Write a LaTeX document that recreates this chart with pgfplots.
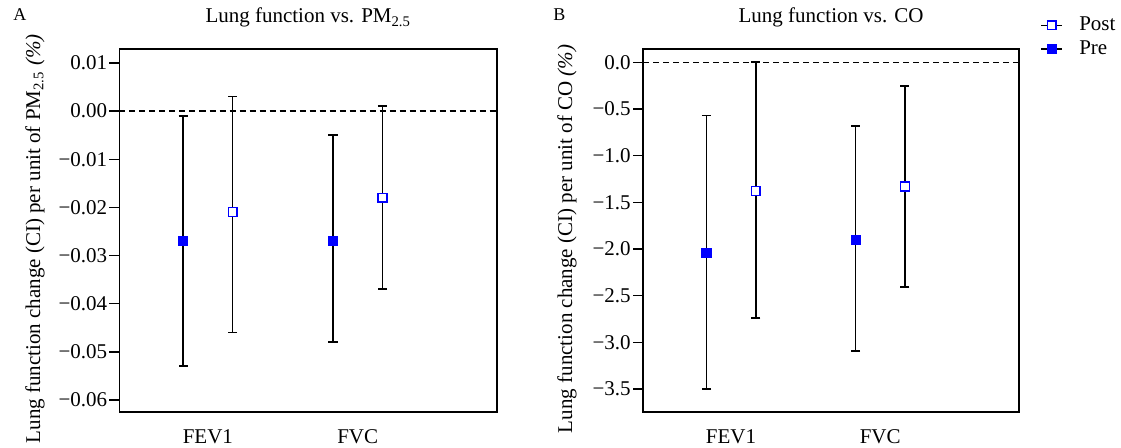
\documentclass[border=0pt]{standalone}
\usepackage{fontspec}
\setmainfont{Liberation Serif}
\usepackage{pgfplots}
\pgfplotsset{compat=1.18}
\usepackage{pgfplotstable}

% x = category position (FEV1 = 1, FVC = 2), y = estimate, lo/hi = CI bounds
\pgfplotstableread{
x     y       lo      hi
0.835 -0.027  -0.053  -0.001
1.835 -0.027  -0.048  -0.005
}\pmpre
\pgfplotstableread{
x     y       lo      hi
1.165 -0.021  -0.046   0.003
2.165 -0.018  -0.037   0.001
}\pmpost
\pgfplotstableread{
x     y       lo      hi
0.835 -2.04   -3.50   -0.57
1.835 -1.90   -3.09   -0.68
}\copre
\pgfplotstableread{
x     y       lo      hi
1.165 -1.38   -2.74    0.00
2.165 -1.33   -2.41   -0.25
}\copost

\newcommand{\fs}{\fontsize{10.5}{12}\selectfont}

\pgfplotsset{
  lungpanel/.style={
    scale only axis,
    height=181.5pt,
    xmin=0.41, xmax=2.93,
    xtick={1,2}, xticklabels={FEV1,FVC},
    xtick style={draw=none},
    x tick label style={anchor=base, yshift=-11pt},
    scaled y ticks=false,
    tick align=outside,
    major tick length=5pt,
    ytick pos=left,
    y tick style={black, line width=0.7pt},
    yticklabel style={inner sep=1pt},
    axis line style={line width=0.8pt},
    tick label style={font=\fs},
    label style={font=\fs},
    title style={font=\fs, at={(0.5,1)}, anchor=base, yshift=7pt},
  },
  cibars/.style={
    black, only marks, mark=none,
    error bars/y dir=both, error bars/y explicit,
    error bars/error bar style={black, solid, line width=0.85pt},
    error bars/error mark options={rotate=90, mark size=2.3pt, black, line width=0.85pt},
  },
  premark/.style={only marks, mark=square*, mark size=2.2pt,
    mark options={draw=blue, fill=blue, line width=0.7pt}},
  postmark/.style={only marks, mark=square*, mark size=2.2pt,
    mark options={draw=blue, fill=white, line width=0.7pt}},
}

\begin{document}
\begin{tikzpicture}
\useasboundingbox (0,0) rectangle (560.5pt,224pt);

% panel A
\begin{axis}[lungpanel,
    at={(59.75pt,18pt)}, anchor=south west,
    width=188.75pt,
    ymin=-0.0625, ymax=0.0129,
    ytick={-0.06,-0.05,-0.04,-0.03,-0.02,-0.01,0,0.01},
    yticklabels={−0.06,−0.05,−0.04,−0.03,−0.02,−0.01,0.00,0.01},
    title={Lung function vs. PM\textsubscript{2.5}},
    ylabel={Lung function change (CI) per unit of PM\textsubscript{2.5} \textit{(\%)}},
    ylabel style={at={(axis description cs:-0.2238,0.477)}, anchor=center},
]
\addplot[black, line width=0.7pt, dash pattern=on 3pt off 2pt] coordinates {(0.41,0) (2.93,0)};
\addplot[cibars] table[x=x, y=y, y error plus expr=\thisrow{hi}-\thisrow{y}, y error minus expr=\thisrow{y}-\thisrow{lo}] {\pmpre};
\addplot[cibars] table[x=x, y=y, y error plus expr=\thisrow{hi}-\thisrow{y}, y error minus expr=\thisrow{y}-\thisrow{lo}] {\pmpost};
\addplot[premark] table[x=x, y=y] {\pmpre};
\addplot[postmark] table[x=x, y=y] {\pmpost};
\end{axis}

% panel B
\begin{axis}[lungpanel,
    at={(321.5pt,18pt)}, anchor=south west,
    width=188pt,
    ymin=-3.746, ymax=0.143,
    ytick={-3.5,-3,-2.5,-2,-1.5,-1,-0.5,0},
    yticklabels={−3.5,−3.0,−2.5,−2.0,−1.5,−1.0,−0.5,0.0},
    title={Lung function vs. CO},
    ylabel={Lung function change (CI) per unit of CO \textit{(\%)}},
    ylabel style={at={(axis description cs:-0.202,0.477)}, anchor=center},
    legend style={at={(1,1)}, anchor=north west, xshift=10.5pt, yshift=17.5pt,
      draw=none, fill=none, inner sep=0pt, row sep=1pt,
      nodes={inner sep=1.25pt}, font=\fs,
      /tikz/every odd column/.append style={column sep=7pt}},
    legend cell align=left,
    legend image code/.code={
      \draw[black, line width=0.7pt] (0pt,0pt) -- (10.5pt,0pt);
      \draw[#1] plot coordinates {(5.25pt,0pt)};
    },
]
\addplot[black, line width=0.7pt, dash pattern=on 3pt off 2pt, forget plot] coordinates {(0.41,0) (2.93,0)};
\addplot[forget plot, cibars] table[x=x, y=y, y error plus expr=\thisrow{hi}-\thisrow{y}, y error minus expr=\thisrow{y}-\thisrow{lo}] {\copre};
\addplot[forget plot, cibars] table[x=x, y=y, y error plus expr=\thisrow{hi}-\thisrow{y}, y error minus expr=\thisrow{y}-\thisrow{lo}] {\copost};
\addplot[postmark] table[x=x, y=y] {\copost};
\addlegendentry{Post}
\addplot[premark] table[x=x, y=y] {\copre};
\addlegendentry{Pre}
\end{axis}

\node[anchor=base west, inner sep=0pt, font=\fontsize{9}{10}\selectfont] at (6.5pt,213.5pt) {A};
\node[anchor=base west, inner sep=0pt, font=\fontsize{9}{10}\selectfont] at (276.5pt,213.5pt) {B};
\end{tikzpicture}
\end{document}
